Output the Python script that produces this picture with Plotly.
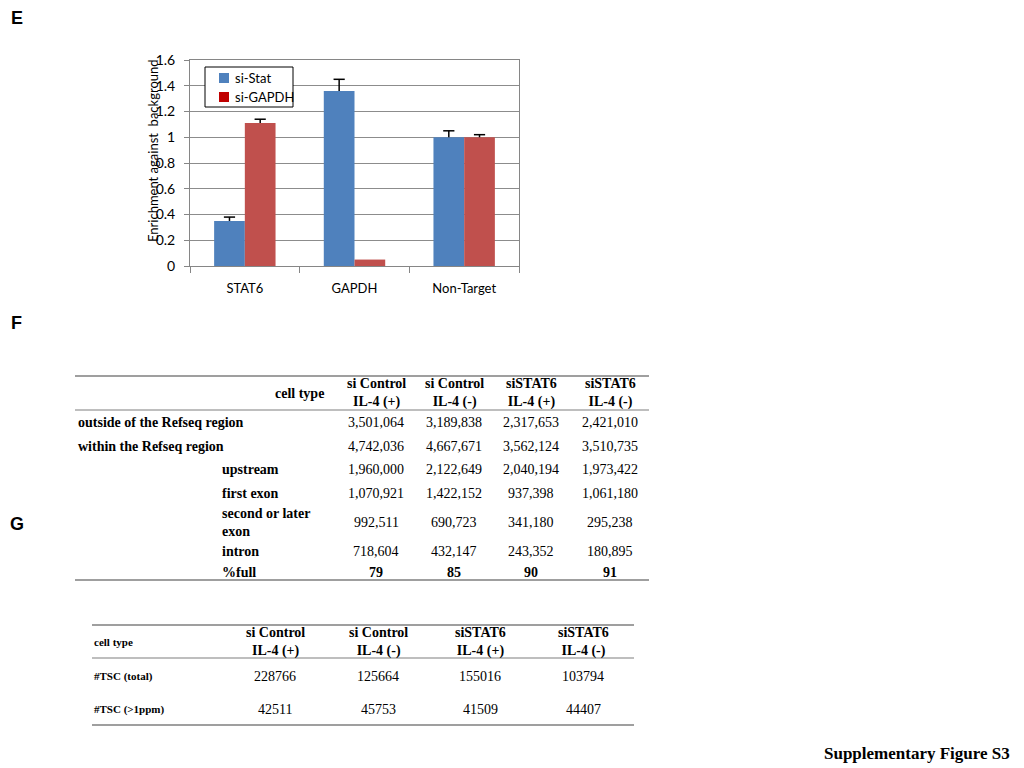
import plotly.graph_objects as go

# ---------------- data ----------------
categories = ["STAT6", "GAPDH", "Non-Target"]
si_stat = [0.35, 1.36, 1.00]
si_stat_err = [0.03, 0.09, 0.05]
si_gapdh = [1.11, 0.05, 1.00]
si_gapdh_err = [0.03, 0.0, 0.02]
series_names = ["si-Stat", "si-GAPDH"]
y_ticks = [0, 0.2, 0.4, 0.6, 0.8, 1.0, 1.2, 1.4, 1.6]
y_tick_labels = ["0", "0.2", "0.4", "0.6", "0.8", "1", "1.2", "1.4", "1.6"]

f_columns = ["si Control<br>IL-4 (+)", "si Control<br>IL-4 (-)", "siSTAT6<br>IL-4 (+)", "siSTAT6<br>IL-4 (-)"]
f_row_labels = ["outside of the Refseq region", "within the Refseq region", "upstream",
                "first exon", "second or later<br>exon", "intron", "%full"]
f_col1 = [3501064, 4742036, 1960000, 1070921, 992511, 718604, 79]
f_col2 = [3189838, 4667671, 2122649, 1422152, 690723, 432147, 85]
f_col3 = [2317653, 3562124, 2040194, 937398, 341180, 243352, 90]
f_col4 = [2421010, 3510735, 1973422, 1061180, 295238, 180895, 91]

g_columns = ["si Control<br>IL-4 (+)", "si Control<br>IL-4 (-)", "siSTAT6<br>IL-4 (+)", "siSTAT6<br>IL-4 (-)"]
g_row_labels = ["#TSC (total)", "#TSC (>1ppm)"]
g_col1 = [228766, 42511]
g_col2 = [125664, 45753]
g_col3 = [155016, 41509]
g_col4 = [103794, 44407]

# ---------------- layout helpers ----------------
W, H = 1024, 768
def px(x):
    return x / W
def py(y):
    return 1 - y / H

BLUE = "#4F81BD"
RED = "#C0504D"
SANS = "Lato"
SERIF = "Liberation Serif"
BAR_W = 0.28

xpos = list(range(len(categories)))

fig = go.Figure()
for vals, errs, color, off in [(si_stat, si_stat_err, BLUE, -BAR_W), (si_gapdh, si_gapdh_err, RED, 0.0)]:
    fig.add_trace(go.Bar(
        x=xpos, y=vals, offset=off, width=BAR_W, marker=dict(color=color, line=dict(width=0)),
        error_y=dict(type="data", array=errs, arrayminus=[0] * len(errs), symmetric=False,
                     color="#000000", thickness=1.5, width=0),
        showlegend=False, hoverinfo="y"))
    # top caps of the error bars
    cx = [x + off + BAR_W / 2 for x, e in zip(xpos, errs) if e > 0]
    cy = [v + e for v, e in zip(vals, errs) if e > 0]
    fig.add_trace(go.Scatter(x=cx, y=cy, mode="markers", showlegend=False, hoverinfo="skip",
                             marker=dict(symbol="line-ew-open", size=8, color="#000000",
                                         line=dict(color="#000000", width=1.5))))

fig.update_layout(
    width=W, height=H, margin=dict(l=0, r=0, t=0, b=0, autoexpand=False), autosize=False,
    paper_bgcolor="white", plot_bgcolor="white",
    font=dict(family=SANS, size=13, color="#000000"),
    xaxis=dict(domain=[px(190), px(519)], range=[-0.5, 2.5], tickvals=xpos, ticktext=categories,
               showline=True, linecolor="#868686", linewidth=1, mirror=True,
               ticks="", showgrid=False, zeroline=False, automargin=False,
               tickfont=dict(family=SANS, size=13), ticklabelstandoff=10,
               minor=dict(tickvals=[-0.5, 0.5, 1.5, 2.5], ticks="outside", ticklen=6,
                          tickcolor="#868686", showgrid=False)),
    yaxis=dict(domain=[py(266), py(60)], range=[0, 1.6], tickvals=y_ticks, ticktext=y_tick_labels,
               showline=True, linecolor="#868686", linewidth=1, mirror=True,
               ticks="outside", ticklen=5, tickcolor="#868686", automargin=False,
               ticklabelstandoff=6,
               showgrid=True, gridcolor="#8C8C8C", gridwidth=1,
               tickfont=dict(family=SANS, size=14), zeroline=False),
)

ann = []
shapes = []

def text(x, y, t, size, family=SERIF, xanchor="center", align="center", angle=0):
    ann.append(dict(x=px(x), y=py(y), xref="paper", yref="paper", text=t, showarrow=False,
                    xanchor=xanchor, yanchor="middle", align=align, textangle=angle,
                    font=dict(family=family, size=size, color="#000000")))

def hline(x0, x1, y, w, color="#7F7F7F"):
    shapes.append(dict(type="line", xref="paper", yref="paper", x0=px(x0), x1=px(x1),
                       y0=py(y), y1=py(y), line=dict(color=color, width=w)))

# legend (manual box)
shapes.append(dict(type="rect", xref="paper", yref="paper", x0=px(205), x1=px(293), y0=py(67), y1=py(107),
                   line=dict(color="#000000", width=1), fillcolor="white"))
for name, color, ly in zip(series_names, [BLUE, "#C00000"], [78, 97]):
    shapes.append(dict(type="rect", xref="paper", yref="paper", x0=px(219), x1=px(229),
                       y0=py(ly - 5), y1=py(ly + 5), line=dict(width=0), fillcolor=color))
    text(233, ly, name, 13, family=SANS, xanchor="left")

# y-axis title
text(153, 151, "Enrichment against  background", 13, family=SANS, angle=-90)

# panel letters
for letter, (lx, ly) in {"E": (17, 18), "F": (16, 323), "G": (17, 524)}.items():
    text(lx, ly, "<b>%s</b>" % letter, 18, family="Liberation Sans")

text(1012, 753, "<b>Supplementary Figure S3</b>", 17, xanchor="right")

# ---------- table F ----------
f_cols = [f_col1, f_col2, f_col3, f_col4]
f_col_x = [376, 454, 531, 610]
f_row_y = [422, 446, 469, 493, 522, 551, 572]
f_label_x = [76, 76, 220, 220, 220, 220, 220]
for y0, w in [(376, 1.5), (410, 1.2), (580, 1.5)]:
    hline(75, 649, y0, w)
text(326, 393, "<b>cell type</b>", 14, xanchor="right")
for cx, head in zip(f_col_x, f_columns):
    text(cx, 393, "<b>%s</b>" % head, 14)
for i, lab in enumerate(f_row_labels):
    text(f_label_x[i], f_row_y[i], "<b>%s</b>" % lab, 14, xanchor="left", align="left")
    for cx, col in zip(f_col_x, f_cols):
        v = col[i]
        txt = "<b>%d</b>" % v if i == len(f_row_labels) - 1 else f"{v:,}"
        text(cx, f_row_y[i], txt, 14)

# ---------- table G ----------
g_cols = [g_col1, g_col2, g_col3, g_col4]
g_col_x = [275, 378, 480, 583]
g_row_y = [676, 709]
for y0, w in [(625, 1.5), (658, 1.2), (725, 1.5)]:
    hline(92, 634, y0, w)
text(92, 642, "<b>cell type</b>", 11, xanchor="left")
for cx, head in zip(g_col_x, g_columns):
    text(cx, 642, "<b>%s</b>" % head, 14)
for i, lab in enumerate(g_row_labels):
    text(92, g_row_y[i], "<b>%s</b>" % lab, 11, xanchor="left")
    for cx, col in zip(g_col_x, g_cols):
        text(cx, g_row_y[i], str(col[i]), 14)

fig.update_layout(annotations=ann, shapes=shapes)

fig.write_html("out.html", config={"displayModeBar": False},
               post_script="document.body.style.margin='0';document.body.style.overflow='hidden';")
